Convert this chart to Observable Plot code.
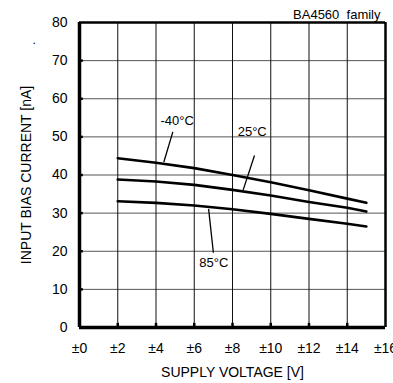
<!DOCTYPE html>
<html><head><meta charset="utf-8">
<script src="https://cdn.jsdelivr.net/npm/d3@7"></script>
<script src="https://cdn.jsdelivr.net/npm/@observablehq/plot@0.6"></script>
<style>body{margin:0;background:#fff;font-family:"Liberation Sans",Arial,sans-serif}</style>
</head><body><div id="chart"></div>
<script>
const voltages = [2, 4, 6, 8, 10, 12, 14, 15];
const currentM40 = [44.4, 43.2, 41.8, 40.0, 38.1, 36.0, 33.8, 32.7];
const current25 = [38.8, 38.3, 37.4, 36.1, 34.6, 32.9, 31.4, 30.4];
const current85 = [33.1, 32.7, 32.0, 31.0, 29.8, 28.5, 27.2, 26.5];
const xTicks = [0, 2, 4, 6, 8, 10, 12, 14, 16];
const yTicks = [0, 10, 20, 30, 40, 50, 60, 70, 80];
const labelText = ["-40°C", "25°C", "85°C"];
const labelX = [5.11, 9.03, 7.02];
const labelY = [54.1, 51.3, 17.0];
const leaderX1 = [4.88, 9.15, 6.75];
const leaderY1 = [51.3, 45.1, 31.1];
const leaderX2 = [4.41, 8.56, 7.0];
const leaderY2 = [43.4, 36.1, 19.6];

const series = [
  ...voltages.map((v, i) => ({t: "-40", v, c: currentM40[i]})),
  ...voltages.map((v, i) => ({t: "25", v, c: current25[i]})),
  ...voltages.map((v, i) => ({t: "85", v, c: current85[i]}))
];
const labels = labelText.map((t, i) => ({t, x: labelX[i], y: labelY[i]}));
const leaders = labelText.map((t, i) => ({x1: leaderX1[i], y1: leaderY1[i], x2: leaderX2[i], y2: leaderY2[i]}));

const chart = Plot.plot({
  width: 393,
  height: 383,
  marginLeft: 79,
  marginRight: 8,
  marginTop: 22,
  marginBottom: 56,
  style: {fontFamily: '"Liberation Sans", Arial, sans-serif', fontSize: "14px", color: "#000", background: "#fff", overflow: "visible"},
  x: {domain: [0, 16]},
  y: {domain: [0, 80]},
  marks: [
    Plot.ruleY(yTicks.slice(1, -1), {stroke: "#555", strokeWidth: 1}),
    Plot.ruleX(xTicks.slice(1, -1), {stroke: "#111", strokeWidth: 1}),
    Plot.ruleX(xTicks.slice(1, -1), {y1: 0, y2: 1.1, stroke: "#000", strokeWidth: 2.5}),
    Plot.ruleY(yTicks.slice(1, -1), {x1: 0, x2: 0.2, stroke: "#000", strokeWidth: 2.5}),
    Plot.ruleX([0], {stroke: "#000", strokeWidth: 3.5}),
    Plot.ruleY([0], {stroke: "#000", strokeWidth: 3.5}),
    Plot.ruleX([16], {stroke: "#000", strokeWidth: 2.5}),
    Plot.ruleY([80], {stroke: "#000", strokeWidth: 2.5}),
    Plot.line(series, {x: "v", y: "c", z: "t", stroke: "#000", strokeWidth: 2.6}),
    Plot.link(leaders, {x1: "x1", y1: "y1", x2: "x2", y2: "y2", stroke: "#000", strokeWidth: 1.3}),
    Plot.text(labels, {x: "x", y: "y", text: "t", fontSize: 13, fill: "#000"}),
    Plot.text(["BA4560  family"], {frameAnchor: "top-right", lineAnchor: "bottom", dy: -4, dx: -5, textAnchor: "end", fontSize: 13, fill: "#000"}),
    Plot.text(["."], {frameAnchor: "top-left", dx: -47, dy: 13, fontSize: 12, fill: "#000"}),
    Plot.axisX({ticks: xTicks, tickFormat: d => "±" + d, tickSize: 0, tickPadding: 16, fontSize: 14,
      label: "SUPPLY VOLTAGE [V]", labelAnchor: "center", labelOffset: 49, labelArrow: "none"}),
    Plot.axisY({ticks: yTicks, tickSize: 0, tickPadding: 12, fontSize: 14,
      label: "INPUT BIAS CURRENT [nA]", labelAnchor: "center", labelOffset: 58, labelArrow: "none"})
  ]
});
document.getElementById("chart").appendChild(chart);
</script>
</body></html>
